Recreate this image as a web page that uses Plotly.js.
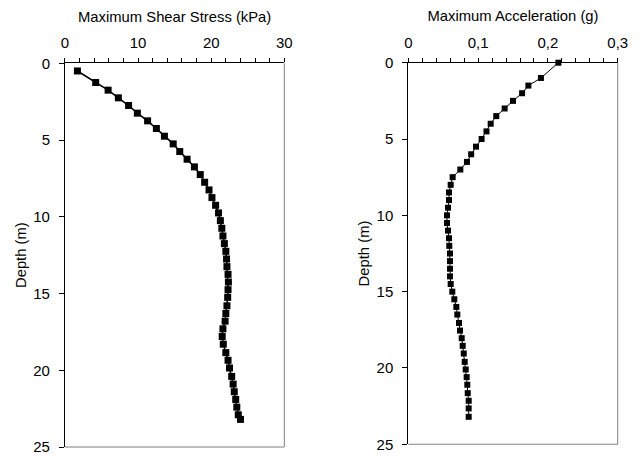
<!DOCTYPE html>
<html>
<head>
<meta charset="utf-8">
<script src="https://cdn.plot.ly/plotly-3.0.1.min.js"></script>
<style>html,body{margin:0;padding:0;background:#fff;}#chart{width:642px;height:456px;}</style>
</head>
<body>
<div id="chart"></div>
<script>
// Left panel: Maximum Shear Stress (kPa) vs depth (m)
const shearDepth = [0.5, 1.25, 1.75, 2.25, 2.75, 3.25, 3.75, 4.25, 4.75, 5.25,
  5.75, 6.25, 6.75, 7.25, 7.75, 8.25, 8.75, 9.25, 9.75, 10.25,
  10.75, 11.25, 11.75, 12.25, 12.75, 13.25, 13.75, 14.25, 14.75, 15.25,
  15.8, 16.3, 16.8, 17.3, 17.8, 18.3, 18.85, 19.35, 19.85, 20.4,
  20.9, 21.4, 21.9, 22.4, 22.9, 23.2];
const shearStress = [1.7, 4.2, 5.9, 7.3, 8.7, 9.9, 11.3, 12.5, 13.6, 14.8,
  15.7, 16.7, 17.7, 18.5, 19.1, 19.7, 20.1, 20.6, 21.0, 21.25,
  21.45, 21.6, 21.8, 22.0, 22.1, 22.15, 22.3, 22.35, 22.3, 22.25,
  22.15, 22.0, 21.9, 21.6, 21.5, 21.65, 22.0, 22.3, 22.5, 22.8,
  23.0, 23.15, 23.35, 23.5, 23.7, 24.0];

// Right panel: Maximum Acceleration (g) vs depth (m)
const accDepth = [0, 1.0, 1.5, 2.0, 2.5, 3.0, 3.5, 4.0, 4.5, 5.0,
  5.5, 6.0, 6.5, 7.0, 7.5, 8.0, 8.5, 9.0, 9.5, 10.0,
  10.5, 11.0, 11.5, 12.0, 12.5, 13.0, 13.5, 14.0, 14.5, 15.0,
  15.5, 16.0, 16.5, 17.05, 17.55, 18.05, 18.55, 19.05, 19.6, 20.1,
  20.6, 21.1, 21.65, 22.15, 22.65, 23.2];
const accValue = [0.215, 0.19, 0.172, 0.163, 0.150, 0.138, 0.126, 0.118, 0.112, 0.105,
  0.097, 0.090, 0.084, 0.0745, 0.0635, 0.0607, 0.0583, 0.0583, 0.0569, 0.0554,
  0.0554, 0.0569, 0.0583, 0.0587, 0.0597, 0.0597, 0.0597, 0.0597, 0.0607, 0.063,
  0.0659, 0.0688, 0.0702, 0.0726, 0.0741, 0.0765, 0.0779, 0.0794, 0.0808, 0.0822,
  0.0836, 0.0845, 0.0851, 0.0865, 0.0865, 0.0865];

const xTitleLeft = 'Maximum Shear Stress (kPa)';
const xTitleRight = 'Maximum Acceleration (g)';
const yTitle = 'Depth (m)';

const traces = [
  {x: shearStress, y: shearDepth, xaxis: 'x', yaxis: 'y', type: 'scatter', mode: 'lines+markers',
   line: {color: '#000', width: 1.6}, marker: {symbol: 'square', size: 7, color: '#000'},
   cliponaxis: false, showlegend: false, hoverinfo: 'skip'},
  {x: accValue, y: accDepth, xaxis: 'x2', yaxis: 'y2', type: 'scatter', mode: 'lines+markers',
   line: {color: '#000', width: 1}, marker: {symbol: 'square', size: 6, color: '#000'},
   cliponaxis: false, showlegend: false, hoverinfo: 'skip'}
];

const xCommon = {side: 'top', showline: true, linecolor: '#000', linewidth: 1, ticks: 'outside',
  ticklen: 4, tickcolor: '#000', showgrid: false, zeroline: false, ticklabelstandoff: 4,
  ticklabeloverflow: 'allow', tickfont: {size: 15}, fixedrange: true};
const yCommon = {autorange: false, range: [25, 0], dtick: 5, showline: true, linecolor: '#000', linewidth: 1,
  ticks: 'outside', ticklen: 5, tickcolor: '#000', showgrid: false, zeroline: false,
  ticklabelstandoff: 6, ticklabeloverflow: 'allow', tickfont: {size: 15}, fixedrange: true};

const layout = {
  width: 642, height: 456,
  margin: {l: 0, r: 0, t: 0, b: 0},
  paper_bgcolor: '#fff', plot_bgcolor: '#fff',
  separators: ', ',
  font: {family: 'Liberation Sans, Arial, sans-serif', size: 14, color: '#000'},
  xaxis: Object.assign({}, xCommon, {domain: [0.1012, 0.4429], range: [0, 30], dtick: 10, anchor: 'y',
    minor: {dtick: 2, ticks: 'outside', ticklen: 4, tickcolor: '#000', showgrid: false},
    title: {text: xTitleLeft, font: {size: 14.8}, standoff: 8}}),
  yaxis: Object.assign({}, yCommon, {domain: [0.0197, 0.8612], anchor: 'x',
    title: {text: yTitle, font: {size: 14.8}, standoff: 3}}),
  xaxis2: Object.assign({}, xCommon, {domain: [0.636, 0.9622], range: [0, 0.3], dtick: 0.1, anchor: 'y2',
    minor: {dtick: 0.02, ticks: 'outside', ticklen: 4, tickcolor: '#000', showgrid: false},
    title: {text: xTitleRight, font: {size: 14.8}, standoff: 8}}),
  yaxis2: Object.assign({}, yCommon, {domain: [0.0257, 0.8625], anchor: 'x2',
    title: {text: yTitle, font: {size: 14.8}, standoff: 3}}),
  shapes: [
    {type: 'line', xref: 'x domain', yref: 'y domain', x0: 1, x1: 1, y0: 0, y1: 1, line: {color: '#808080', width: 1}},
    {type: 'line', xref: 'x domain', yref: 'y domain', x0: 0, x1: 1, y0: 0, y1: 0, line: {color: '#808080', width: 1}},
    {type: 'line', xref: 'x2 domain', yref: 'y2 domain', x0: 1, x1: 1, y0: 0, y1: 1, line: {color: '#808080', width: 1}},
    {type: 'line', xref: 'x2 domain', yref: 'y2 domain', x0: 0, x1: 1, y0: 0, y1: 0, line: {color: '#808080', width: 1}}
  ]
};

Plotly.newPlot('chart', traces, layout, {staticPlot: true, displayModeBar: false});
</script>
</body>
</html>
